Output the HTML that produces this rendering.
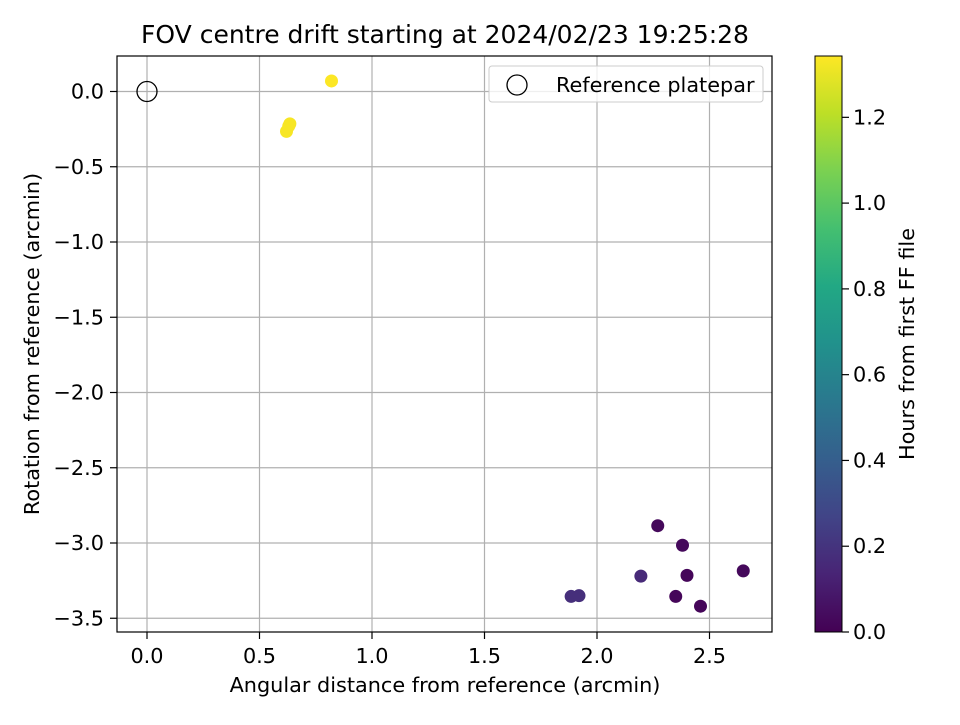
<!DOCTYPE html>
<html><head><meta charset="utf-8"><style>
body{margin:0;background:#fff}
svg{font-family:"DejaVu Sans","Liberation Sans",sans-serif}
</style></head><body>
<svg id="c" width="960" height="720" viewBox="0 0 960 720" xmlns="http://www.w3.org/2000/svg">
<defs>
<linearGradient id="vir" x1="0" y1="1" x2="0" y2="0">
<stop offset="0" stop-color="#440154"/><stop offset="0.1" stop-color="#482475"/><stop offset="0.2" stop-color="#414487"/><stop offset="0.3" stop-color="#355f8d"/><stop offset="0.4" stop-color="#2a788e"/><stop offset="0.5" stop-color="#21918c"/><stop offset="0.6" stop-color="#22a884"/><stop offset="0.7" stop-color="#44bf70"/><stop offset="0.8" stop-color="#7ad151"/><stop offset="0.9" stop-color="#bddf26"/><stop offset="1" stop-color="#fde725"/>
</linearGradient>
</defs>
<text x="445" y="43" font-size="25" text-anchor="middle">FOV centre drift starting at 2024/02/23 19:25:28</text>
<g id="grid"></g>
<g id="pts"></g>
<rect x="117" y="56" width="655" height="576" fill="none" stroke="#000" stroke-width="1.2"/>
<g id="ticks"></g>
<text x="445" y="692" font-size="20.8" text-anchor="middle">Angular distance from reference (arcmin)</text>
<text transform="translate(39,344) rotate(-90)" font-size="20.8" text-anchor="middle">Rotation from reference (arcmin)</text>
<g>
<rect x="489" y="66" width="274" height="36" rx="3" fill="#fff" fill-opacity="0.8" stroke="#ccc"/>
<circle cx="517" cy="85" r="10" fill="none" stroke="#000" stroke-width="1.3"/>
<text x="556" y="92" font-size="20.8">Reference platepar</text>
</g>
<rect x="815" y="56" width="27" height="576" fill="url(#vir)" stroke="#000" stroke-width="1"/>
<g id="cbticks"></g>
<text transform="translate(914,344) rotate(-90)" font-size="20.8" text-anchor="middle">Hours from first FF file</text>
</svg>
<script>
const xs=[0.82,0.635,0.63,0.62,2.27,2.38,2.40,2.65,2.35,2.46,2.195,1.885,1.92];
const ys=[0.07,-0.215,-0.23,-0.265,-2.885,-3.015,-3.215,-3.185,-3.355,-3.42,-3.22,-3.355,-3.35];
const hours=[1.34,1.33,1.33,1.33,0.03,0.03,0.02,0.03,0.02,0.02,0.16,0.18,0.18];
const xTicks=[0,0.5,1,1.5,2,2.5];
const yTicks=[0,-0.5,-1,-1.5,-2,-2.5,-3,-3.5];
const cTicks=[0,0.2,0.4,0.6,0.8,1.0,1.2];
const cMax=1.343;
const NS="http://www.w3.org/2000/svg";
const X=v=>147+v*225, Y=v=>91.5-v*150.5, C=v=>632-v/cMax*576;
const stops=["#440154","#482475","#414487","#355f8d","#2a788e","#21918c","#22a884","#44bf70","#7ad151","#bddf26","#fde725"];
function hex(h){return [1,3,5].map(i=>parseInt(h.substr(i,2),16));}
function vir(t){t=Math.max(0,Math.min(1,t))*10;const i=Math.min(9,Math.floor(t)),f=t-i;const a=hex(stops[i]),b=hex(stops[i+1]);return "rgb("+a.map((v,k)=>Math.round(v+(b[k]-v)*f)).join(",")+")";}
function mk(p,tag,at){const e=document.createElementNS(NS,tag);for(const k in at)e.setAttribute(k,at[k]);p.appendChild(e);return e;}
const g=document.getElementById("grid"),tk=document.getElementById("ticks"),pts=document.getElementById("pts"),cb=document.getElementById("cbticks");
const fmt=v=>(v<0?"\u2212":"")+Math.abs(v).toFixed(1);
xTicks.forEach(v=>{const x=X(v);
const l=mk(g,"line",{x1:x,x2:x,y1:56,y2:632,stroke:"#b0b0b0","stroke-width":1.2});


const t=mk(tk,"line",{x1:x,x2:x,y1:632,y2:639,stroke:"#000","stroke-width":1.2});


const s=mk(tk,"text",{x:x,y:663,"font-size":20.8,"text-anchor":"middle"});s.textContent=fmt(v);

});
yTicks.forEach(v=>{const y=Y(v);
const l=mk(g,"line",{x1:117,x2:772,y1:y,y2:y,stroke:"#b0b0b0","stroke-width":1.2});


const t=mk(tk,"line",{x1:110,x2:117,y1:y,y2:y,stroke:"#000","stroke-width":1.2});


const s=mk(tk,"text",{x:104,y:y+7,"font-size":20.8,"text-anchor":"end"});s.textContent=fmt(v);

});
xs.forEach((v,i)=>{const c=mk(pts,"circle",{cx:X(v),cy:Y(ys[i]),r:6.5,fill:vir(hours[i]/cMax)});

});
const r=mk(pts,"circle",{cx:X(0),cy:Y(0),r:10,fill:"none",stroke:"#000","stroke-width":1.3});


cTicks.forEach(v=>{const y=C(v);
const t=mk(cb,"line",{x1:842,x2:849,y1:y,y2:y,stroke:"#000","stroke-width":1.2});


const s=mk(cb,"text",{x:853,y:y+7,"font-size":20.8});s.textContent=v.toFixed(1);

});
</script>
</body></html>
